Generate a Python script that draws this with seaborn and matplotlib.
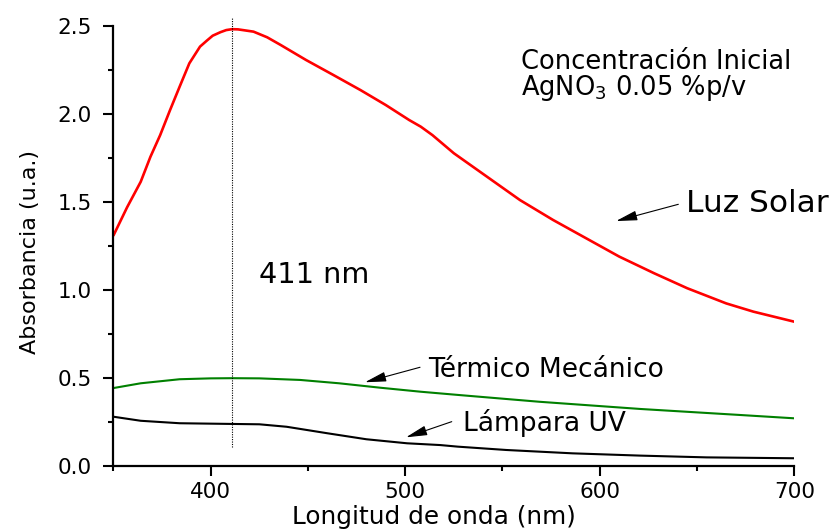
import matplotlib
matplotlib.use("Agg")
import matplotlib.pyplot as plt
from matplotlib.ticker import MultipleLocator
import numpy as np
import pandas as pd
import seaborn as sns

# ---- data ----
wl_solar = [350, 357, 364, 369, 374, 379, 384, 389, 394.5, 398, 401, 405, 408, 411, 414,
            422, 429, 436, 449, 463, 477, 490, 502, 508, 514, 525, 542, 559, 576, 593,
            610, 628, 645, 665, 679, 700]
abs_solar = [1.31, 1.47, 1.615, 1.757, 1.88, 2.02, 2.155, 2.288, 2.383, 2.417, 2.445,
             2.465, 2.477, 2.482, 2.481, 2.468, 2.436, 2.392, 2.307, 2.222, 2.136, 2.051,
             1.966, 1.928, 1.88, 1.777, 1.644, 1.511, 1.398, 1.294, 1.19, 1.095, 1.01,
             0.924, 0.877, 0.82]

wl_term = [350, 364, 384, 400, 411, 425, 446, 466, 487, 508, 528, 569, 621, 672, 700]
abs_term = [0.443, 0.47, 0.493, 0.498, 0.499, 0.498, 0.489, 0.47, 0.445, 0.422, 0.403,
            0.365, 0.324, 0.29, 0.271]

wl_uv = [350, 364, 384, 411, 425, 439, 460, 480, 501, 518, 527, 552, 586, 621, 655, 700]
abs_uv = [0.28, 0.257, 0.243, 0.239, 0.237, 0.223, 0.186, 0.152, 0.129, 0.119, 0.11,
          0.091, 0.072, 0.059, 0.049, 0.044]

series_names = ["Luz Solar", "Térmico Mecánico", "Lámpara UV"]
series_colors = {"Luz Solar": "#ff0000", "Térmico Mecánico": "#008000", "Lámpara UV": "#000000"}
peak_nm = 411
peak_label = "411 nm"
x_ticks = [400, 500, 600, 700]
y_ticks = [0.0, 0.5, 1.0, 1.5, 2.0, 2.5]

df = pd.concat([
    pd.DataFrame({"wl": wl_solar, "abs": abs_solar, "serie": series_names[0]}),
    pd.DataFrame({"wl": wl_term, "abs": abs_term, "serie": series_names[1]}),
    pd.DataFrame({"wl": wl_uv, "abs": abs_uv, "serie": series_names[2]}),
], ignore_index=True)

sns.set_style("ticks")
plt.rcParams["font.family"] = ["DejaVu Sans"]
plt.rcParams["text.color"] = "black"
plt.rcParams["axes.labelcolor"] = "black"
plt.rcParams["xtick.color"] = "black"
plt.rcParams["ytick.color"] = "black"

fig = plt.figure(figsize=(8.35, 5.31), dpi=100)
ax = fig.add_axes([0.1359, 0.1224, 0.8153, 0.8286])

widths = {"Luz Solar": 1.9, "Térmico Mecánico": 1.5, "Lámpara UV": 1.5}
for name in series_names:
    sns.lineplot(data=df[df["serie"] == name], x="wl", y="abs", color=series_colors[name],
                 linewidth=widths[name], ax=ax, legend=False, estimator=None, sort=False)

ax.set_xlim(350, 700)
ax.set_ylim(0, 2.5)
ax.set_xticks(x_ticks)
ax.set_yticks(y_ticks)
ax.set_xticklabels([str(v) for v in x_ticks])
ax.set_yticklabels([f"{v:.1f}" for v in y_ticks])
ax.xaxis.set_minor_locator(MultipleLocator(50))
ax.yaxis.set_minor_locator(MultipleLocator(0.25))
for s in ["top", "right"]:
    ax.spines[s].set_visible(False)
for s in ["left", "bottom"]:
    ax.spines[s].set_linewidth(1.6)
    ax.spines[s].set_color("black")
ax.tick_params(which="major", length=7.2, width=1.5, colors="black", labelsize=15.5,
               labelcolor="black")
ax.tick_params(which="minor", length=3.6, width=1.5, colors="black")
ax.tick_params(axis="y", which="major", pad=8.5)
ax.tick_params(axis="x", which="major", pad=4.5)

ax.set_xlabel("Longitud de onda (nm)", fontsize=17.8, color="black", va="baseline")
ax.xaxis.set_label_coords(0.47, -0.1318)
ax.set_ylabel("Absorbancia (u.a.)", fontsize=16, color="black", va="center")
ax.yaxis.set_label_coords(-0.1227, 0.487)

# dotted marker line at the peak
ax.vlines(peak_nm, 0.108, 2.545, colors="black", linestyles=(0, (1, 1.2)), linewidth=0.8,
          clip_on=False)

# annotations
ax.text(425, 1.038, peak_label, fontsize=20.7, color="black", ha="left", va="baseline")
ax.text(559.3, 2.254, "Concentración Inicial", fontsize=18.5, ha="left", va="baseline")
ax.text(559.3, 2.108, r"AgNO$_3$ 0.05 %p/v", fontsize=18.5, ha="left", va="baseline")
ax.text(644.5, 1.445, "Luz Solar", fontsize=22.5, ha="left", va="baseline")
ax.text(511.7, 0.507, "Térmico Mecánico", fontsize=19.1, ha="left", va="baseline")
ax.text(529.6, 0.2006, "Lámpara UV", fontsize=19.1, ha="left", va="baseline")

arrow_kw = dict(arrowstyle="-|>,head_length=0.65,head_width=0.15", color="black", lw=0.8,
                mutation_scale=20, shrinkA=0, shrinkB=0)
ax.annotate("", xy=(608.4, 1.392), xytext=(640.4, 1.487), arrowprops=arrow_kw)
ax.annotate("", xy=(479.3, 0.476), xytext=(507.6, 0.561), arrowprops=arrow_kw)
ax.annotate("", xy=(500.4, 0.163), xytext=(523.9, 0.252), arrowprops=arrow_kw)

fig.savefig("out.png", dpi=100)
